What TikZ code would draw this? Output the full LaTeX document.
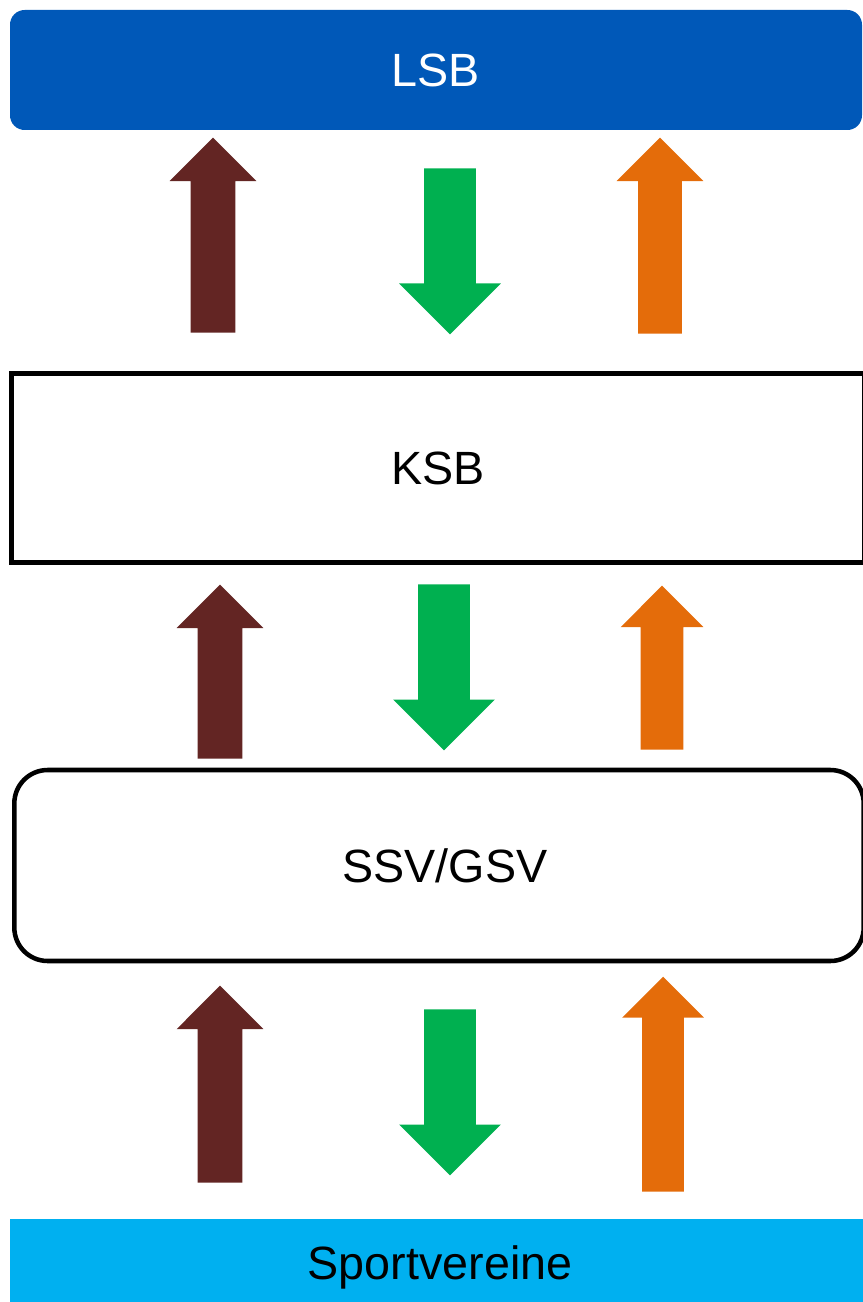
\documentclass[tikz,border=0pt]{standalone}
\usepackage{fontspec}
\setmainfont{Liberation Sans}
\usetikzlibrary{shapes.arrows}
\definecolor{lsbblue}{HTML}{0058B8}
\definecolor{sportblue}{HTML}{00B0F0}
\definecolor{darkbrown}{HTML}{632523}
\definecolor{flowgreen}{HTML}{00B050}
\definecolor{floworange}{HTML}{E46C0A}

\begin{document}
\begin{tikzpicture}[x=0.75pt,y=-0.75pt,
    box node/.style={rectangle,minimum width=639pt,font=\fontsize{35}{42}\selectfont},
    block arrow/.style={single arrow,draw=none,inner xsep=0pt,single arrow tip angle=90,anchor=tail},
    brown arrow/.style={block arrow,fill=darkbrown,rotate=90,inner ysep=16.5pt,single arrow head extend=15.75pt},
    green arrow/.style={block arrow,fill=flowgreen,rotate=-90,inner ysep=19.125pt,single arrow head extend=18.75pt},
    orange arrow/.style={block arrow,fill=floworange,rotate=90,inner ysep=16.125pt,single arrow head extend=16.125pt}]
    \useasboundingbox (0,0) rectangle (863,1302);
    \clip (0,0) rectangle (863,1302);

    \node[box node,fill=lsbblue,text=white,rounded corners=11pt,minimum height=90pt] (lsb) at (436,70) {LSB};
    \node[box node,draw,line width=3.75pt,minimum width=639.75pt,minimum height=141.75pt] (ksb) at (438,468) {KSB};
    \node[box node,draw,line width=3.4pt,rounded corners=25pt,minimum width=637pt,minimum height=143.25pt] (ssv) at (439,865.5) {};
    \node[font=\fontsize{35}{42}\selectfont] (ssvlabel) at (445,866) {SSV/GSV};
    \node[box node,fill=sportblue,minimum width=645pt,minimum height=72.75pt] (sv) at (440,1267.5) {Sportvereine};

    % LSB - KSB
    \node[brown arrow,minimum height=146.25pt] (brown1) at (213,333) {};
    \node[green arrow,minimum height=124.5pt] (green1) at (450,168) {};
    \node[orange arrow,minimum height=147pt] (orange1) at (660,334) {};

    % KSB - SSV/GSV
    \node[brown arrow,minimum height=130.5pt] (brown2) at (220,759) {};
    \node[green arrow,minimum height=124.5pt] (green2) at (444,584) {};
    \node[orange arrow,minimum height=123pt,inner ysep=15.75pt,single arrow head extend=15pt] (orange2) at (662,750) {};

    % SSV/GSV - Sportvereine
    \node[brown arrow,minimum height=147.75pt] (brown3) at (220,1183) {};
    \node[green arrow,minimum height=124.5pt] (green3) at (450,1009) {};
    \node[orange arrow,minimum height=161.25pt,inner ysep=15.375pt,single arrow head extend=15pt] (orange3) at (663,1192) {};
\end{tikzpicture}
\end{document}
